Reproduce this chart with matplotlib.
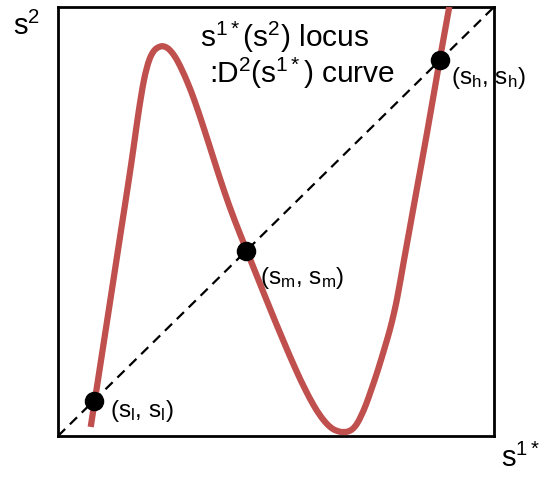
import matplotlib
matplotlib.use("Agg")
import matplotlib.pyplot as plt
from matplotlib.path import Path
from matplotlib.patches import PathPatch
import numpy as np

plt.rcParams["font.family"] = ["Liberation Sans", "DejaVu Sans"]
plt.rcParams["mathtext.fontset"] = "custom"
plt.rcParams["mathtext.rm"] = "Liberation Sans"
plt.rcParams["mathtext.it"] = "Liberation Sans"
plt.rcParams["mathtext.default"] = "regular"

# D2(s1*) response curve, sampled along its length
curve_s1 = [0.0750, 0.0917, 0.1094, 0.1271, 0.1447, 0.1624, 0.1725, 0.1789, 0.1856, 0.1911,
            0.1972, 0.2037, 0.2110, 0.2190, 0.2271, 0.2385, 0.2489, 0.2573, 0.2656, 0.2741,
            0.2844, 0.2966, 0.3126, 0.3358, 0.3578, 0.3803, 0.4050, 0.4323, 0.4599, 0.4876,
            0.5161, 0.5459, 0.5677, 0.5860, 0.6021, 0.6170, 0.6307, 0.6445, 0.6548, 0.6651,
            0.6755, 0.6853, 0.6950, 0.7060, 0.7183, 0.7300, 0.7408, 0.7511, 0.7610, 0.7706,
            0.7784, 0.7924, 0.8073, 0.8222, 0.8463, 0.8755, 0.8975]
curve_s2 = [0.0210, 0.1305, 0.2471, 0.3636, 0.4802, 0.5967, 0.6667, 0.7133, 0.7599, 0.7949,
            0.8298, 0.8578, 0.8811, 0.8963, 0.9044, 0.9086, 0.9056, 0.8986, 0.8881, 0.8741,
            0.8531, 0.8252, 0.7832, 0.7133, 0.6434, 0.5734, 0.5035, 0.4336, 0.3636, 0.2937,
            0.2238, 0.1538, 0.1072, 0.0723, 0.0466, 0.0280, 0.0163, 0.0105, 0.0093, 0.0105,
            0.0163, 0.0280, 0.0466, 0.0723, 0.1072, 0.1422, 0.1772, 0.2121, 0.2471, 0.2867,
            0.3240, 0.4033, 0.4872, 0.5711, 0.7063, 0.8765, 1.0007]

# equilibria on the 45-degree line
eq_values = [0.082, 0.432, 0.876]
eq_labels = ["(s$_l$, s$_l$)", "(s$_m$, s$_m$)", "(s$_h$, s$_h$)"]

W, H = 539, 483
fig = plt.figure(figsize=(W / 100, H / 100), dpi=100)
ax = fig.add_axes([58 / W, (H - 436) / H, 436 / W, 429 / H])
ax.set_xlim(0, 1)
ax.set_ylim(0, 1)
ax.set_xticks([])
ax.set_yticks([])
for sp in ax.spines.values():
    sp.set_linewidth(2.0)
    sp.set_color("black")


def smooth_path(xs, ys):
    """Chord-length Hermite spline through the points, as cubic Bezier segments."""
    pts = np.column_stack([xs, ys]).astype(float)
    n = len(pts)
    seg = np.hypot(*np.diff(pts, axis=0).T)
    t = np.concatenate([[0.0], np.cumsum(seg)])
    tang = np.zeros_like(pts)
    tang[0] = (pts[1] - pts[0]) / (t[1] - t[0])
    tang[-1] = (pts[-1] - pts[-2]) / (t[-1] - t[-2])
    for i in range(1, n - 1):
        tang[i] = (pts[i + 1] - pts[i - 1]) / (t[i + 1] - t[i - 1])
    verts = [pts[0]]
    codes = [Path.MOVETO]
    for i in range(n - 1):
        h = t[i + 1] - t[i]
        verts += [pts[i] + tang[i] * h / 3, pts[i + 1] - tang[i + 1] * h / 3, pts[i + 1]]
        codes += [Path.CURVE4] * 3
    return Path(verts, codes)


# dashed 45-degree line
ax.plot([0, 1], [0, 1], color="black", lw=1.6, ls=(0, (4.5, 3)), zorder=2)

curve = PathPatch(smooth_path(curve_s1, curve_s2), facecolor="none",
                  edgecolor="#C0504D", lw=4.5, capstyle="butt", joinstyle="round",
                  zorder=3)
ax.add_patch(curve)

ax.scatter(eq_values, eq_values, s=170, color="black", zorder=4)

label_offsets = [(16, -16), (14, -33), (11, -24)]
for v, lab, (dx, dy) in zip(eq_values, eq_labels, label_offsets):
    ax.annotate(lab, xy=(v, v), xytext=(dx, dy), textcoords="offset pixels",
                fontsize=17.5, ha="left", va="baseline", zorder=5)


def ftext(px, py, s, size):
    fig.text(px / W, 1 - py / H, s, fontsize=size, ha="left", va="baseline")


ftext(200, 47, "s$^{1*}$(s$^{2}$) locus", 21.5)
ftext(209, 83, ":D$^{2}$(s$^{1*}$) curve", 21.5)
ftext(13, 35, "s$^{2}$", 21)
ftext(501, 467, "s$^{1*}$", 21)

fig.savefig("out.png", dpi=100)
